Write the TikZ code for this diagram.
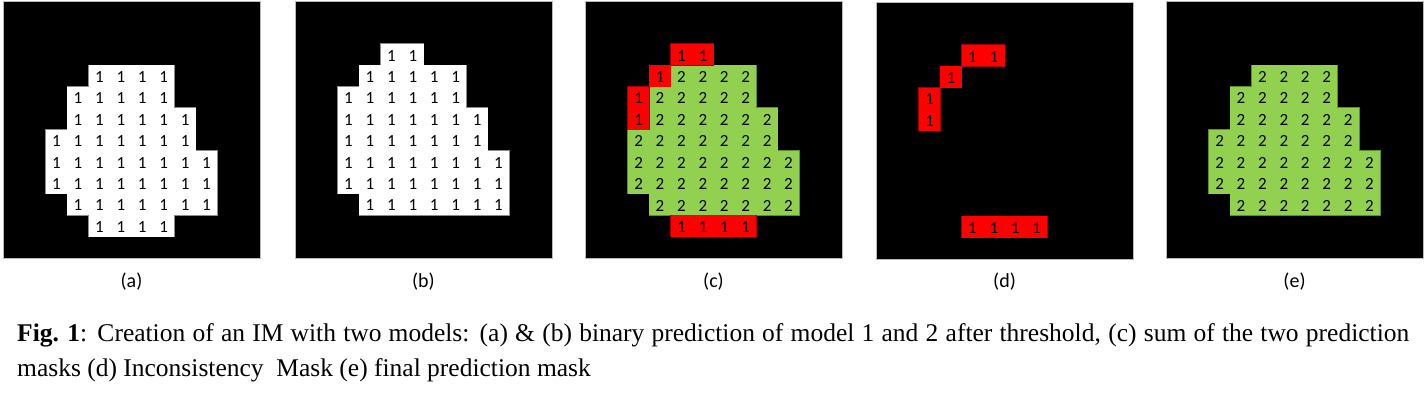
\documentclass[tikz,border=0pt]{standalone}
\usepackage{fontspec}
\setmainfont{Liberation Serif}
\newfontfamily\calibri{Carlito}
\definecolor{mygreen}{HTML}{92D050}
\definecolor{mygreenedge}{HTML}{5E8C2E}
\definecolor{myred}{HTML}{FF0000}
\definecolor{myrededge}{HTML}{A00000}
\definecolor{whiteedge}{HTML}{8C8C8C}
\def\cs{21.42}
% #1 panel x, #2 panel y, #3 rows r/c1/c2, #4 fill, #5 edge, #6 digit, #7 name prefix
\newcommand\mkregion[7]{%
  \foreach \r/\ca/\cb in {#3}{%
    \draw[#5, line width=1.4bp] ({#1+\ca*\cs},{#2+\r*\cs}) rectangle ({#1+(\cb+1)*\cs},{#2+(\r+1)*\cs});}
  \foreach \r/\ca/\cb in {#3}{%
    \fill[#4] ({#1+\ca*\cs},{#2+\r*\cs}) rectangle ({#1+(\cb+1)*\cs},{#2+(\r+1)*\cs+0.2});}
  \foreach \r/\ca/\cb in {#3}{%
    \foreach \c in {\ca,...,\cb}{%
      \node[cellval] (#7-\r-\c) at ({#1+(\c+0.5)*\cs},{#2+(\r+0.5)*\cs+1}) {#6};}}
}
\begin{document}
\begin{tikzpicture}[x=1bp,y=-1bp,
  panel/.style={fill=black, draw=gray!55, line width=0.8bp, minimum size=257bp, inner sep=0, outer sep=0, anchor=north west},
  cellval/.style={font=\calibri\fontsize{17bp}{17bp}\selectfont, inner sep=0, anchor=center},
  sublabel/.style={font=\calibri\fontsize{20bp}{20bp}\selectfont, inner sep=0, anchor=center},
  captxt/.style={font=\fontsize{25.5bp}{25.5bp}\selectfont, inner sep=0, anchor=base west}]
\useasboundingbox[fill=white] (0,0) rectangle (1426,397);

% panels
\node[panel] (pa) at (3,1) {};
\node[panel] (pb) at (295,1) {};
\node[panel] (pc) at (585,1) {};
\node[panel] (pd) at (876,2) {};
\node[panel] (pe) at (1166,1) {};

% (a)
\mkregion{3}{1}{3/4/7,4/3/7,5/3/8,6/2/8,7/2/9,8/2/9,9/3/9,10/4/7}{white}{whiteedge}{1}{a}
% (b)
\mkregion{295}{1}{2/4/5,3/3/7,4/2/7,5/2/8,6/2/8,7/2/9,8/2/9,9/3/9}{white}{whiteedge}{1}{b}
% (c)
\mkregion{585}{1}{3/4/7,4/3/7,5/3/8,6/2/8,7/2/9,8/2/9,9/3/9}{mygreen}{mygreenedge}{2}{cg}
\mkregion{585}{1}{2/4/5,3/3/3,4/2/2,5/2/2,10/4/7}{myred}{myrededge}{1}{cr}
% (d)
\mkregion{876}{2}{2/4/5,3/3/3,4/2/2,5/2/2,10/4/7}{myred}{myrededge}{1}{d}
% (e)
\mkregion{1166}{1}{3/4/7,4/3/7,5/3/8,6/2/8,7/2/9,8/2/9,9/3/9}{mygreen}{mygreenedge}{2}{e}

% sub labels
\node[sublabel] (la) at (131.5,282) {(a)};
\node[sublabel] (lb) at (423.5,282) {(b)};
\node[sublabel] (lc) at (713.5,282) {(c)};
\node[sublabel] (ld) at (1004.5,282) {(d)};
\node[sublabel] (le) at (1294.5,282) {(e)};

% caption
\node[captxt] (cap1) at (17,341.7) {\makebox[1392bp][s]{\textbf{\mbox{Fig. 1}}: Creation of an IM with two models: (a) \& (b) binary prediction of model 1 and 2 after threshold, (c) sum of the two prediction}};
\node[captxt] (cap2) at (17,376.5) {masks (d) Inconsistency\ \ Mask (e) final prediction mask};
\end{tikzpicture}
\end{document}
